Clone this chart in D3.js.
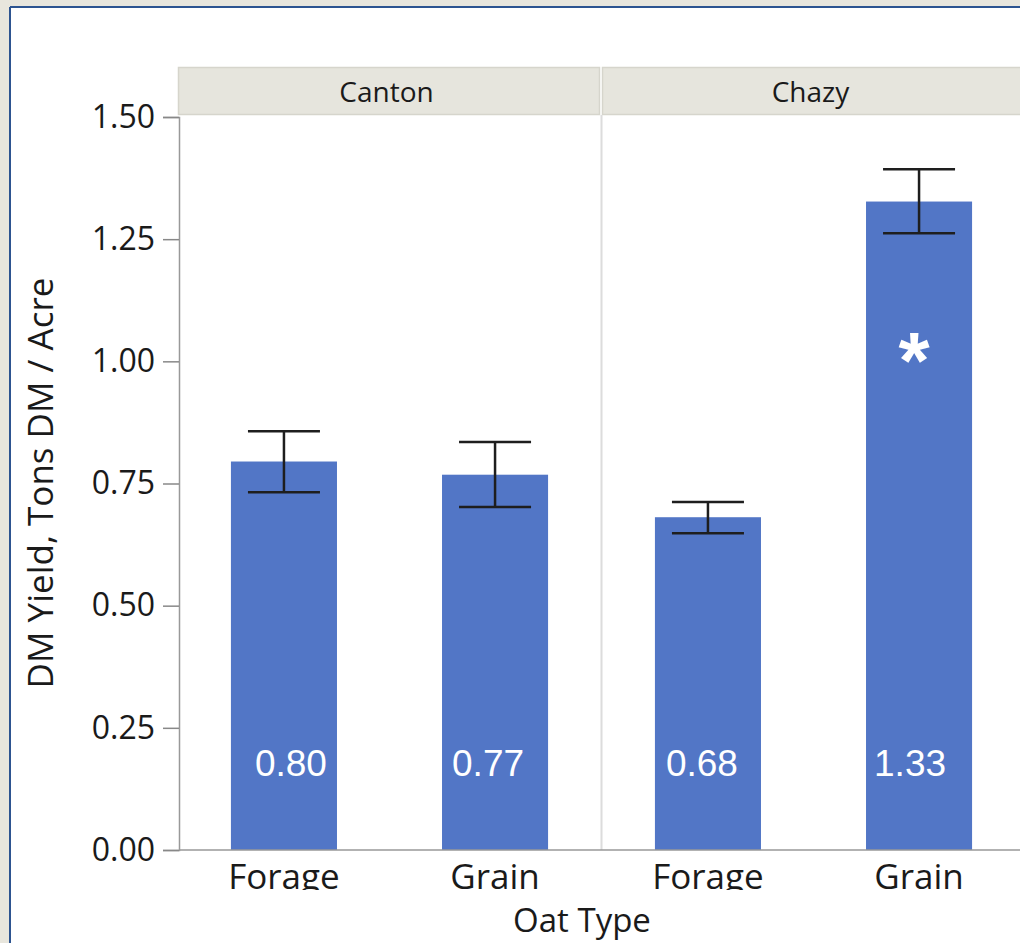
<!DOCTYPE html>
<html><head><meta charset="utf-8">
<script src="https://cdn.jsdelivr.net/npm/d3@7"></script>
<style>
html,body{margin:0;padding:0;background:#e8e6dd;overflow:hidden;}
svg{display:block;}
</style></head>
<body>
<script>
const locations = ["Canton", "Chazy"];
const oatTypes = ["Forage", "Grain"];
const canton = [0.795, 0.768];
const chazy = [0.681, 1.327];
const cantonLow = [0.732, 0.702];
const cantonHigh = [0.857, 0.835];
const chazyLow = [0.648, 1.262];
const chazyHigh = [0.712, 1.393];
const cantonLabels = ["0.80", "0.77"];
const chazyLabels = ["0.68", "1.33"];
const yTicks = [0, 0.25, 0.5, 0.75, 1.0, 1.25, 1.5];
const significant = [[false, false], [false, true]];

// annotation nudges (as placed in the original)
const labelNudge = {Canton: [7, -7], Chazy: [-6, -9]};

const W = 1020, H = 943;
const svg = d3.select("body").append("svg").attr("width", W).attr("height", H);

svg.append("rect").attr("x", 0).attr("y", 0).attr("width", W).attr("height", H).attr("fill", "#e8e6dd");
svg.append("rect").attr("x", 10).attr("y", 7).attr("width", W).attr("height", H).attr("fill", "#ffffff");
svg.append("line").attr("x1", 10).attr("x2", 10).attr("y1", 7).attr("y2", H).attr("stroke", "#2d5490").attr("stroke-width", 2);
svg.append("line").attr("x1", 10).attr("x2", W).attr("y1", 7).attr("y2", 7).attr("stroke", "#2d5490").attr("stroke-width", 2);

const plotTop = 117, plotBottom = 850;
const x0 = 179, panelW = 421, gap = 3;
const y = d3.scaleLinear().domain([0, 1.5]).range([plotBottom, plotTop]);
const outer = d3.scaleBand().domain(locations).range([x0, x0 + 2 * panelW + gap]).paddingInner(gap / (panelW + gap));
const inner = d3.scaleBand().domain(oatTypes).range([0, outer.bandwidth()]).paddingInner(0.4976).paddingOuter(0.246);

const series = {
  Canton: {v: canton, lo: cantonLow, hi: cantonHigh, lab: cantonLabels},
  Chazy: {v: chazy, lo: chazyLow, hi: chazyHigh, lab: chazyLabels}
};

const font = "'Open Sans', 'Noto Sans', sans-serif";

locations.forEach((loc, i) => {
  const px = outer(loc);
  svg.append("rect").attr("x", px - 0.5).attr("y", 67.5).attr("width", outer.bandwidth() + (i === 1 ? 20 : 0)).attr("height", 47)
    .attr("fill", "#e6e5dd").attr("stroke", "#d6d5cc").attr("stroke-width", 1.5);
  svg.append("text").attr("x", px + outer.bandwidth() / 2 - 3).attr("y", 102)
    .attr("text-anchor", "middle").attr("font-family", font).attr("font-size", 28).attr("fill", "#1a1a1a").text(loc);
});

svg.append("line").attr("x1", outer("Chazy") - 1.5).attr("x2", outer("Chazy") - 1.5).attr("y1", 115).attr("y2", plotBottom)
  .attr("stroke", "#dcdcdc").attr("stroke-width", 2);

locations.forEach((loc, li) => {
  const g = svg.append("g").attr("transform", `translate(${outer(loc)},0)`);
  const s = series[loc];
  oatTypes.forEach((t, ti) => {
    const bx = inner(t), bw = inner.bandwidth(), cx = bx + bw / 2;
    g.append("rect").attr("x", bx).attr("y", y(s.v[ti])).attr("width", bw).attr("height", y(0) - y(s.v[ti]))
      .attr("fill", "#5276c6");
    g.append("line").attr("x1", cx).attr("x2", cx).attr("y1", y(s.hi[ti])).attr("y2", y(s.lo[ti]))
      .attr("stroke", "#1e1e1e").attr("stroke-width", 2.5);
    [s.hi[ti], s.lo[ti]].forEach(v => {
      g.append("line").attr("x1", cx - 36).attr("x2", cx + 36).attr("y1", y(v)).attr("y2", y(v))
        .attr("stroke", "#1e1e1e").attr("stroke-width", 2.5);
    });
    g.append("text").attr("x", cx + labelNudge[loc][ti]).attr("y", 776).attr("text-anchor", "middle")
      .attr("font-family", "'Liberation Sans', Arial, sans-serif").attr("font-size", 37).attr("fill", "#ffffff").text(s.lab[ti]);
    if (significant[li][ti]) {
      g.append("text").attr("x", cx - 5).attr("y", 388).attr("text-anchor", "middle")
        .attr("font-family", "'Liberation Sans', Arial, sans-serif").attr("font-weight", "bold").attr("font-size", 80).attr("fill", "#ffffff").text("*");
    }
  });
});

svg.append("line").attr("x1", x0).attr("x2", W).attr("y1", plotBottom).attr("y2", plotBottom)
  .attr("stroke", "#999").attr("stroke-width", 1.5);

const yAxis = d3.axisLeft(y).tickValues(yTicks).tickFormat(d3.format(".2f")).tickSize(16).tickPadding(8);
const ya = svg.append("g").attr("transform", `translate(${x0},0)`).call(yAxis);
ya.select(".domain").attr("stroke", "#999").attr("stroke-width", 1.5);
ya.selectAll(".tick line").attr("stroke", "#888").attr("stroke-width", 1.5);
ya.selectAll(".tick text").attr("font-family", font).attr("font-size", 32).attr("fill", "#1a1a1a");

svg.append("clipPath").attr("id", "xclip").append("rect").attr("x", 0).attr("y", 852).attr("width", W).attr("height", 38);
const xl = svg.append("g").attr("clip-path", "url(#xclip)");
locations.forEach(loc => {
  oatTypes.forEach(t => {
    xl.append("text").attr("x", outer(loc) + inner(t) + inner.bandwidth() / 2).attr("y", 889)
      .attr("text-anchor", "middle").attr("font-family", font).attr("font-size", 35).attr("fill", "#1a1a1a").text(t);
  });
});

svg.append("text").attr("x", 582).attr("y", 932).attr("text-anchor", "middle")
  .attr("font-family", font).attr("font-size", 33).attr("fill", "#1a1a1a").text("Oat Type");
svg.append("text").attr("transform", "translate(53,483) rotate(-90)").attr("text-anchor", "middle")
  .attr("font-family", font).attr("font-size", 35).attr("fill", "#1a1a1a").text("DM Yield, Tons DM / Acre");
</script>
</body></html>
